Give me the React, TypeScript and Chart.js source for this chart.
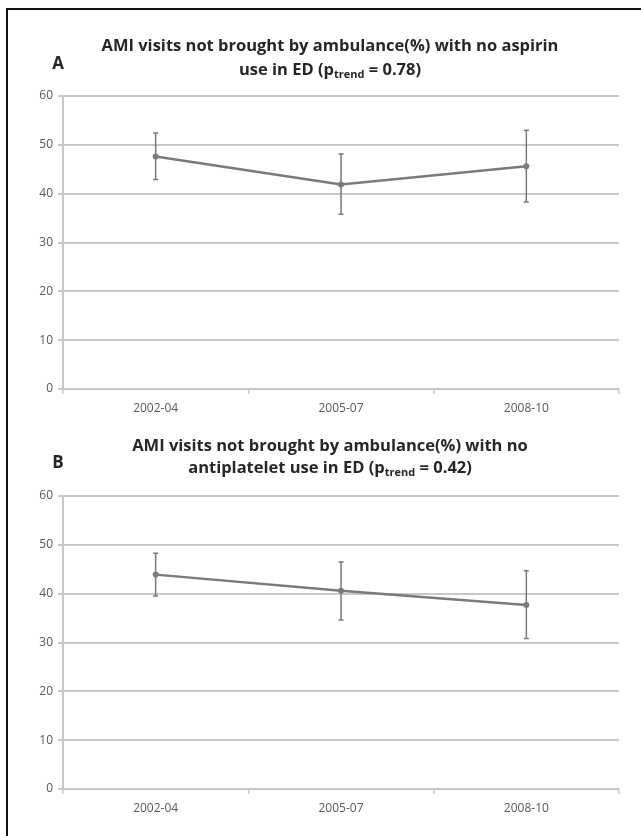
import React, { useEffect, useRef } from "react";
import { Chart, registerables } from "chart.js";

Chart.register(...registerables);

const categories = ["2002-04", "2005-07", "2008-10"];
const yTicks = [0, 10, 20, 30, 40, 50, 60];

const valuesA = [47.6, 41.9, 45.6];
const lowA = [42.9, 35.8, 38.3];
const highA = [52.4, 48.1, 53.0];

const valuesB = [43.9, 40.6, 37.7];
const lowB = [39.5, 34.6, 30.8];
const highB = [48.3, 46.5, 44.7];

const titleA1 = "AMI visits not brought by ambulance(%) with no aspirin";
const titleA2 = ["use in ED (p", "trend", " = 0.78)"];
const titleB1 = "AMI visits not brought by ambulance(%) with no";
const titleB2 = ["antiplatelet use in ED (p", "trend", " = 0.42)"];

const FONT = "'Open Sans', 'Liberation Sans', sans-serif";
const LINE = "#7a7a7a";
const GRID = "#c8c8c8";

type PanelProps = {
  letter: string;
  line1: string;
  line2: string[];
  values: number[];
  low: number[];
  high: number[];
  top: number;
  height: number;
  plotTop: number;
  plotBottom: number;
  titleY1: number;
  titleY2: number;
};

function Panel(p: PanelProps) {
  const ref = useRef<HTMLCanvasElement>(null);
  useEffect(() => {
    const canvas = ref.current!;
    const titlePlugin = {
      id: "customTitle",
      afterDraw(chart: any) {
        const ctx = chart.ctx;
        ctx.save();
        ctx.fillStyle = "#262626";
        ctx.textBaseline = "middle";
        const cx = 330;
        const big = `bold 16.5px ${FONT}`;
        const small = `bold 11px ${FONT}`;
        ctx.font = big;
        ctx.textAlign = "center";
        ctx.fillText(p.line1, cx, p.titleY1);
        ctx.textAlign = "left";
        ctx.font = big;
        const w0 = ctx.measureText(p.line2[0]).width;
        const w2 = ctx.measureText(p.line2[2]).width;
        ctx.font = small;
        const w1 = ctx.measureText(p.line2[1]).width;
        let x = cx - (w0 + w1 + w2) / 2;
        ctx.font = big;
        ctx.fillText(p.line2[0], x, p.titleY2);
        x += w0;
        ctx.font = small;
        ctx.fillText(p.line2[1], x, p.titleY2 + 5);
        x += w1;
        ctx.font = big;
        ctx.fillText(p.line2[2], x, p.titleY2);
        ctx.font = `bold 17px ${FONT}`;
        ctx.textAlign = "center";
        ctx.fillText(p.letter, 58, (p.titleY1 + p.titleY2) / 2 + 6);
        ctx.restore();
      },
    };
    const errorBars = {
      id: "errorBars",
      afterDatasetsDraw(chart: any) {
        const ctx = chart.ctx;
        const xs = chart.scales.x;
        const ys = chart.scales.y;
        ctx.save();
        ctx.strokeStyle = LINE;
        ctx.lineWidth = 1.5;
        p.values.forEach((_v, i) => {
          const x = xs.getPixelForValue(i);
          const y1 = ys.getPixelForValue(p.high[i]);
          const y2 = ys.getPixelForValue(p.low[i]);
          ctx.beginPath();
          ctx.moveTo(x, y1);
          ctx.lineTo(x, y2);
          ctx.moveTo(x - 2.5, y1);
          ctx.lineTo(x + 2.5, y1);
          ctx.moveTo(x - 2.5, y2);
          ctx.lineTo(x + 2.5, y2);
          ctx.stroke();
        });
        ctx.restore();
      },
    };
    const padTop = p.plotTop - p.top;
    const xHeight = p.top + p.height - p.plotBottom;
    const chart = new Chart(canvas, {
      type: "line",
      data: {
        labels: categories,
        datasets: [
          {
            data: p.values,
            borderColor: LINE,
            backgroundColor: LINE,
            borderWidth: 2.5,
            pointRadius: 3,
            pointBackgroundColor: LINE,
            pointBorderWidth: 0,
            tension: 0,
          },
        ],
      },
      options: {
        animation: false,
        responsive: true,
        maintainAspectRatio: false,
        layout: { padding: { left: 0, right: 22, top: padTop, bottom: 0 } },
        plugins: { legend: { display: false }, tooltip: { enabled: false }, title: { display: false } },
        scales: {
          x: {
            type: "category",
            offset: true,
            grid: {
              offset: true,
              drawOnChartArea: false,
              drawTicks: true,
              tickLength: 5,
              color: GRID,
              lineWidth: 1.5,
            },
            border: { color: GRID, width: 2 },
            ticks: { color: "#595959", font: { family: FONT, size: 12 }, padding: 7 },
            afterFit: (s: any) => {
              s.height = xHeight;
            },
          },
          y: {
            min: 0,
            max: 60,
            afterBuildTicks: (s: any) => {
              s.ticks = yTicks.map((v) => ({ value: v }));
            },
            grid: { color: GRID, lineWidth: 2, tickLength: 5, drawTicks: true },
            border: { color: GRID, width: 2 },
            ticks: { color: "#595959", font: { family: FONT, size: 12 }, padding: 5 },
            afterFit: (s: any) => {
              s.width = 63;
            },
          },
        },
      },
      plugins: [titlePlugin, errorBars],
    });
    return () => chart.destroy();
  }, []);
  return (
    <div style={{ position: "absolute", left: 0, top: p.top, width: 641, height: p.height }}>
      <canvas ref={ref} />
    </div>
  );
}

export default function App() {
  return (
    <div style={{ position: "absolute", left: 0, top: 0, width: 641, height: 836, background: "#fff" }}>
      <div style={{ position: "absolute", left: 6, top: 8, width: 2, height: 828, background: "#111" }} />
      <div style={{ position: "absolute", left: 6, top: 8, width: 635, height: 2, background: "#111" }} />
      <Panel
        letter="A"
        line1={titleA1}
        line2={titleA2}
        values={valuesA}
        low={lowA}
        high={highA}
        top={10}
        height={415}
        plotTop={96}
        plotBottom={389}
        titleY1={46 - 10}
        titleY2={70 - 10}
      />
      <Panel
        letter="B"
        line1={titleB1}
        line2={titleB2}
        values={valuesB}
        low={lowB}
        high={highB}
        top={425}
        height={411}
        plotTop={496}
        plotBottom={789}
        titleY1={446 - 425}
        titleY2={468 - 425}
      />
    </div>
  );
}
